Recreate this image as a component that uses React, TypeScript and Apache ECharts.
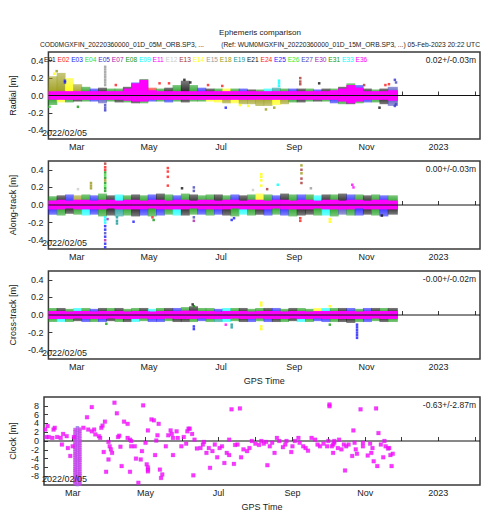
import { useEffect, useRef } from 'react';
import * as echarts from 'echarts';

const FONT = 'Liberation Sans, Arial, Helvetica, sans-serif';

const satellites = ['E01','E02','E03','E04','E05','E07','E08','E09','E11','E12','E13','E14','E15','E18','E19','E21','E24','E25','E26','E27','E30','E31','E33','E36'];
const satColors = ['#111111','#ff1a1a','#1a1aff','#33dd33','#3333cc','#aa22aa','#119911','#00ffff','#ff00ff','#cccccc','#aa3333','#ffff00','#999999','#999911','#119999','#111111','#ff1a1a','#1a1aff','#33ee33','#4444bb','#aa22aa','#119911','#00ffff','#ff00ff'];

const axisStart = '2022-02-05';
const axisEnd = '2023-02-05';
const monthTicks = ['2022-03-01','2022-04-01','2022-05-01','2022-06-01','2022-07-01','2022-08-01','2022-09-01','2022-10-01','2022-11-01','2022-12-01','2023-01-01','2023-02-01'];
const labelDates = ['2022-03-01','2022-05-01','2022-07-01','2022-09-01','2022-11-01','2023-01-01'];
const tickLabels = ['Mar','May','Jul','Sep','Nov','2023'];

const orbitTicks = [-0.4, -0.2, 0, 0.2, 0.4];
const clockTicks = [-8, -6, -4, -2, 0, 2, 4, 6, 8];

const panelNames = ['Radial [m]', 'Along-track [m]', 'Cross-track [m]', 'Clock [m]'];
const panelStats = ['0.02+/-0.03m', '0.00+/-0.03m', '-0.00+/-0.02m', '-0.63+/-2.87m'];
const startLabel = '2022/02/05';

const weekStarts = ['2022-02-05','2022-02-12','2022-02-19','2022-02-26','2022-03-05','2022-03-12','2022-03-19','2022-03-26','2022-04-02','2022-04-09','2022-04-16','2022-04-23','2022-04-30','2022-05-07','2022-05-14','2022-05-21','2022-05-28','2022-06-04','2022-06-11','2022-06-18','2022-06-25','2022-07-02','2022-07-09','2022-07-16','2022-07-23','2022-07-30','2022-08-06','2022-08-13','2022-08-20','2022-08-27','2022-09-03','2022-09-10','2022-09-17','2022-09-24','2022-10-01','2022-10-08','2022-10-15','2022-10-22','2022-10-29','2022-11-05','2022-11-12','2022-11-19'];
const dataEnd = '2022-11-27';

// Radial envelope (weekly)
const radialHi = [0.22,0.26,0.2,0.13,0.1,0.08,0.09,0.08,0.08,0.1,0.15,0.19,0.09,0.08,0.09,0.12,0.17,0.12,0.09,0.08,0.08,0.08,0.08,0.08,0.07,0.07,0.08,0.09,0.08,0.08,0.08,0.08,0.07,0.08,0.08,0.1,0.14,0.12,0.08,0.07,0.08,0.1];
const radialLo = [-0.11,-0.08,-0.08,-0.07,-0.07,-0.07,-0.09,-0.07,-0.08,-0.08,-0.09,-0.09,-0.07,-0.07,-0.08,-0.07,-0.08,-0.07,-0.07,-0.07,-0.08,-0.09,-0.09,-0.1,-0.1,-0.12,-0.12,-0.11,-0.1,-0.08,-0.08,-0.07,-0.07,-0.07,-0.09,-0.1,-0.1,-0.09,-0.08,-0.08,-0.1,-0.12];
const radialMagHi = [0.05,0.05,0.05,0.05,0.05,0.05,0.05,0.05,0.05,0.08,0.14,0.18,0.06,0.05,0.05,0.05,0.05,0.05,0.05,0.05,0.05,0.05,0.05,0.05,0.05,0.05,0.05,0.05,0.05,0.05,0.05,0.05,0.05,0.05,0.06,0.08,0.12,0.09,0.05,0.05,0.05,0.06];
const radialMagLo = [-0.05,-0.05,-0.05,-0.05,-0.05,-0.05,-0.05,-0.05,-0.05,-0.06,-0.07,-0.07,-0.05,-0.05,-0.05,-0.05,-0.05,-0.05,-0.05,-0.05,-0.05,-0.05,-0.05,-0.05,-0.05,-0.05,-0.05,-0.05,-0.05,-0.05,-0.05,-0.05,-0.05,-0.05,-0.05,-0.07,-0.09,-0.07,-0.05,-0.05,-0.05,-0.06];
const radialHiSat = ['E18','E18','E14','E18','E08','E03','E21','E08','E08','E01','E03','E08','E02','E08','E21','E08','E21','E08','E03','E21','E08','E14','E08','E03','E21','E08','E09','E19','E08','E03','E21','E08','E03','E01','E08','E21','E08','E03','E21','E08','E21','E27'];
const radialLoSat = ['E08','E14','E08','E21','E08','E03','E27','E08','E21','E08','E21','E08','E03','E08','E03','E08','E21','E08','E08','E14','E14','E18','E14','E18','E18','E18','E18','E14','E18','E08','E21','E08','E21','E08','E03','E08','E21','E08','E03','E08','E21','E27'];

// Along-track envelope (weekly)
const alongHi = [0.1,0.11,0.12,0.11,0.12,0.11,0.13,0.11,0.12,0.11,0.12,0.11,0.12,0.13,0.12,0.11,0.13,0.12,0.11,0.12,0.12,0.11,0.12,0.11,0.12,0.13,0.12,0.11,0.13,0.12,0.12,0.12,0.11,0.12,0.12,0.13,0.12,0.12,0.11,0.12,0.11,0.11];
const alongLo = [-0.11,-0.12,-0.1,-0.11,-0.12,-0.11,-0.13,-0.12,-0.13,-0.12,-0.13,-0.12,-0.13,-0.12,-0.11,-0.12,-0.12,-0.11,-0.11,-0.12,-0.11,-0.12,-0.13,-0.11,-0.12,-0.11,-0.12,-0.11,-0.12,-0.13,-0.12,-0.11,-0.12,-0.12,-0.13,-0.11,-0.12,-0.12,-0.11,-0.12,-0.13,-0.11];
const alongMagHi = [0.05,0.06,0.05,0.06,0.06,0.05,0.06,0.06,0.05,0.06,0.06,0.05,0.06,0.06,0.05,0.06,0.06,0.05,0.06,0.06,0.05,0.06,0.06,0.05,0.06,0.06,0.05,0.06,0.06,0.05,0.06,0.06,0.05,0.06,0.06,0.05,0.06,0.06,0.05,0.06,0.06,0.05];
const alongMagLo = [-0.05,-0.05,-0.04,-0.05,-0.05,-0.05,-0.05,-0.04,-0.05,-0.05,-0.05,-0.05,-0.04,-0.05,-0.05,-0.05,-0.05,-0.04,-0.05,-0.05,-0.05,-0.05,-0.04,-0.05,-0.05,-0.05,-0.05,-0.04,-0.05,-0.05,-0.05,-0.05,-0.04,-0.05,-0.05,-0.05,-0.05,-0.04,-0.05,-0.05,-0.05,-0.05];
const alongHiSat = ['E08','E21','E03','E18','E08','E03','E08','E21','E09','E08','E01','E08','E03','E21','E08','E03','E08','E21','E08','E08','E01','E08','E03','E21','E08','E14','E08','E03','E21','E08','E03','E08','E09','E21','E08','E01','E03','E08','E21','E08','E03','E08'];
const alongLoSat = ['E03','E08','E21','E08','E09','E03','E08','E21','E19','E08','E21','E03','E08','E03','E08','E09','E21','E08','E03','E08','E03','E21','E08','E09','E08','E21','E03','E08','E03','E08','E21','E21','E08','E09','E08','E27','E08','E03','E21','E08','E03','E21'];

// Cross-track envelope (weekly)
const crossHi = [0.08,0.08,0.07,0.08,0.08,0.07,0.08,0.08,0.08,0.07,0.08,0.08,0.07,0.08,0.08,0.08,0.09,0.1,0.08,0.08,0.07,0.08,0.08,0.08,0.07,0.08,0.08,0.08,0.07,0.08,0.08,0.07,0.08,0.08,0.08,0.08,0.08,0.07,0.08,0.08,0.08,0.08];
const crossLo = [-0.08,-0.08,-0.08,-0.07,-0.08,-0.08,-0.08,-0.07,-0.08,-0.08,-0.08,-0.07,-0.08,-0.08,-0.07,-0.08,-0.08,-0.08,-0.07,-0.08,-0.08,-0.08,-0.07,-0.08,-0.08,-0.07,-0.08,-0.08,-0.08,-0.07,-0.08,-0.08,-0.07,-0.08,-0.08,-0.08,-0.09,-0.08,-0.08,-0.07,-0.08,-0.08];
const crossMagHi = [0.045,0.045,0.04,0.045,0.045,0.04,0.045,0.045,0.045,0.04,0.045,0.045,0.04,0.045,0.045,0.045,0.05,0.05,0.045,0.045,0.04,0.045,0.045,0.045,0.04,0.045,0.045,0.045,0.04,0.045,0.045,0.04,0.045,0.045,0.045,0.045,0.045,0.04,0.045,0.045,0.045,0.045];
const crossMagLo = [-0.045,-0.045,-0.045,-0.04,-0.045,-0.045,-0.045,-0.04,-0.045,-0.045,-0.045,-0.04,-0.045,-0.045,-0.04,-0.045,-0.045,-0.045,-0.04,-0.045,-0.045,-0.045,-0.04,-0.045,-0.045,-0.04,-0.045,-0.045,-0.045,-0.04,-0.045,-0.045,-0.04,-0.045,-0.045,-0.045,-0.045,-0.045,-0.045,-0.04,-0.045,-0.045];
const crossHiSat = ['E08','E21','E08','E09','E08','E03','E21','E08','E21','E08','E08','E01','E09','E08','E21','E03','E08','E21','E08','E08','E03','E09','E08','E21','E08','E08','E01','E03','E08','E21','E08','E08','E14','E09','E08','E21','E03','E08','E03','E21','E08','E21'];
const crossLoSat = ['E08','E09','E08','E21','E03','E08','E03','E21','E08','E21','E09','E08','E03','E03','E08','E21','E21','E08','E03','E08','E19','E09','E08','E21','E03','E08','E03','E21','E08','E21','E09','E08','E03','E03','E08','E21','E21','E08','E03','E08','E21','E08'];

type Pt = [string, number, string];

const radialOutliers: Pt[] = [
  ['2022-03-25',0.33,'E15'],['2022-03-25',0.3,'E15'],['2022-03-25',0.27,'E15'],['2022-03-25',0.24,'E15'],['2022-03-25',0.21,'E15'],['2022-03-25',0.18,'E15'],['2022-03-25',0.15,'E15'],['2022-03-25',0.12,'E15'],
  ['2022-03-25',-0.11,'E27'],['2022-03-25',-0.14,'E27'],['2022-03-25',-0.17,'E05'],
  ['2022-02-19',0.17,'E03'],['2022-02-19',0.15,'E03'],['2022-02-12',0.28,'E18'],['2022-02-10',0.25,'E14'],
  ['2022-05-10',0.14,'E24'],['2022-05-18',0.14,'E02'],
  ['2022-08-19',0.17,'E09'],['2022-08-19',0.14,'E09'],['2022-08-19',0.11,'E33'],
  ['2022-09-06',0.2,'E13'],['2022-09-06',0.16,'E13'],['2022-09-06',0.13,'E13'],
  ['2022-09-22',0.14,'E01'],['2022-11-20',0.13,'E24'],
  ['2022-11-25',0.18,'E05'],['2022-11-26',0.15,'E27'],['2022-11-25',-0.12,'E05'],['2022-11-26',-0.1,'E27'],
  ['2022-07-05',-0.14,'E03'],['2022-11-12',-0.14,'E01'],
  ['2022-07-17',-0.11,'E14'],['2022-07-24',-0.12,'E14'],['2022-08-08',-0.16,'E18'],['2022-08-15',-0.14,'E18'],
  ['2022-03-02',-0.13,'E08'],['2022-02-06',-0.13,'E04'],
  ['2022-06-05',0.15,'E21'],['2022-05-31',0.18,'E21'],
  ['2022-04-03',0.12,'E02'],['2022-06-20',0.12,'E24'],['2022-07-02',0.11,'E02'],['2022-10-30',0.12,'E13'],['2022-11-17',0.12,'E02'],
];

const alongOutliers: Pt[] = [
  ['2022-03-25',0.47,'E13'],['2022-03-25',0.43,'E02'],['2022-03-25',0.4,'E24'],['2022-03-25',0.37,'E08'],['2022-03-25',0.34,'E04'],['2022-03-25',0.31,'E31'],['2022-03-25',0.28,'E18'],['2022-03-25',0.25,'E08'],['2022-03-25',0.22,'E26'],['2022-03-25',0.19,'E08'],['2022-03-25',0.16,'E31'],
  ['2022-03-25',-0.14,'E09'],['2022-03-25',-0.17,'E33'],['2022-03-25',-0.2,'E09'],['2022-03-25',-0.24,'E25'],['2022-03-25',-0.28,'E03'],['2022-03-25',-0.32,'E27'],['2022-03-25',-0.36,'E03'],['2022-03-25',-0.4,'E30'],['2022-03-25',-0.44,'E25'],['2022-03-25',-0.48,'E03'],
  ['2022-03-27',-0.16,'E07'],
  ['2022-05-17',0.42,'E24'],['2022-05-17',0.38,'E24'],['2022-05-17',0.32,'E24'],['2022-05-17',0.22,'E02'],
  ['2022-03-13',0.25,'E18'],['2022-03-13',0.22,'E18'],['2022-03-13',0.19,'E18'],
  ['2022-05-29',0.19,'E01'],
  ['2022-06-08',0.2,'E27'],['2022-06-08',0.16,'E27'],['2022-06-08',-0.14,'E27'],['2022-06-08',-0.18,'E30'],
  ['2022-03-02',0.18,'E12'],
  ['2022-04-04',-0.14,'E19'],['2022-04-04',-0.18,'E19'],['2022-04-04',-0.21,'E19'],
  ['2022-04-18',-0.19,'E03'],['2022-05-04',-0.14,'E02'],['2022-05-05',-0.17,'E08'],
  ['2022-07-10',-0.17,'E03'],['2022-07-12',-0.15,'E25'],
  ['2022-08-04',0.35,'E14'],['2022-08-04',0.32,'E14'],['2022-08-04',0.28,'E14'],['2022-08-04',0.22,'E14'],
  ['2022-09-07',0.45,'E18'],['2022-09-07',0.4,'E13'],['2022-09-07',0.36,'E18'],['2022-09-07',0.3,'E13'],['2022-09-07',0.25,'E13'],
  ['2022-10-01',-0.19,'E14'],['2022-10-01',-0.16,'E14'],
  ['2022-10-20',0.23,'E36'],['2022-10-21',0.2,'E36'],
  ['2022-09-06',-0.15,'E02'],['2022-09-06',-0.18,'E02'],['2022-11-14',-0.12,'E01'],
  ['2022-08-18',0.23,'E09'],['2022-08-09',0.18,'E13'],['2022-07-28',0.17,'E12'],['2022-09-15',0.19,'E15'],
];

const crossOutliers: Pt[] = [
  ['2022-06-08',-0.16,'E03'],['2022-06-08',-0.13,'E03'],['2022-06-08',0.1,'E08'],['2022-06-07',0.12,'E21'],
  ['2022-07-10',-0.14,'E19'],['2022-07-10',-0.11,'E19'],['2022-07-05',-0.11,'E36'],
  ['2022-10-24',-0.11,'E03'],['2022-10-24',-0.14,'E03'],['2022-10-24',-0.17,'E03'],['2022-10-24',-0.2,'E03'],['2022-10-24',-0.23,'E03'],['2022-10-24',-0.26,'E03'],
  ['2022-08-04',0.14,'E14'],['2022-08-04',0.11,'E14'],['2022-08-04',-0.13,'E14'],['2022-08-04',-0.16,'E14'],
  ['2022-10-01',0.1,'E14'],['2022-10-01',-0.11,'E08'],['2022-03-26',-0.1,'E08'],
];

const clockPoints: [string, number][] = [
  ['2022-02-06',2.6],['2022-02-08',3.4],['2022-02-07',0.9],['2022-02-09',0.9],['2022-02-13',2.6],['2022-02-14',3.0],['2022-02-12',0.7],['2022-02-16',0.9],
  ['2022-02-19',0.7],['2022-02-21',1.6],['2022-02-24',1.1],['2022-02-20',-0.8],['2022-02-25',-1.6],['2022-02-27',-3.4],['2022-03-01',-1.2],['2022-03-02',0.9],
  ['2022-03-10',3.0],['2022-03-13',5.4],['2022-03-17',7.7],['2022-03-14',2.6],['2022-03-17',2.2],['2022-03-19',2.6],['2022-03-20',1.5],['2022-03-24',0.7],
  ['2022-03-25',3.0],['2022-03-26',3.5],['2022-03-28',4.4],['2022-03-23',1.1],['2022-03-27',-2.5],['2022-03-31',-0.2],['2022-04-01',-1.2],['2022-04-02',-1.9],
  ['2022-04-03',-2.7],['2022-03-31',-4.2],['2022-03-29',-7.0],['2022-04-05',8.7],['2022-04-07',6.3],['2022-04-08',0.9],['2022-04-09',1.2],['2022-04-11',-5.7],
  ['2022-04-10',-1.3],['2022-04-13',4.4],['2022-04-16',3.9],['2022-04-16',0.7],['2022-04-18',0.3],['2022-04-19',0],['2022-04-19',-1.2],['2022-04-18',-7.0],
  ['2022-04-22',-1.2],['2022-04-23',-4.0],['2022-04-27',-4.2],['2022-04-25',-9.5],['2022-04-29',8.1],['2022-04-28',-2.3],['2022-05-01',-0.4],['2022-05-02',-5.3],
  ['2022-05-03',-6.0],['2022-05-03',-6.5],['2022-05-03',-6.9],['2022-05-03',2.4],['2022-05-06',4.9],['2022-05-08',4.7],['2022-05-10',0.1],['2022-05-12',3.9],
  ['2022-05-11',1.3],['2022-05-09',-3.2],['2022-05-13',-6.5],['2022-05-15',-7.6],['2022-05-14',-8.4],['2022-05-18',-1.2],['2022-05-20',1.3],['2022-05-22',2.4],
  ['2022-05-23',1.6],['2022-05-24',0.7],['2022-05-24',-3.2],['2022-05-27',2.2],['2022-05-28',0.7],['2022-05-31',-1.2],['2022-06-02',0.9],['2022-06-05',2.2],
  ['2022-06-06',2.8],['2022-06-04',-0.6],['2022-06-07',2.8],['2022-06-09',1.6],['2022-06-11',0.3],['2022-06-13',-1.7],['2022-06-16',-1.6],['2022-06-18',-0.8],
  ['2022-06-19',-0.2],['2022-06-21',-2.7],['2022-06-23',-1.6],['2022-06-26',-2.3],['2022-06-24',-6.1],['2022-06-28',-0.8],['2022-06-30',-3.7],['2022-07-02',-1.6],
  ['2022-07-04',-1.2],['2022-07-06',-5.0],['2022-07-08',-2.7],['2022-07-10',-3.2],['2022-07-10',0.3],['2022-07-12',7.2],['2022-07-14',-5.2],['2022-07-15',-0.9],
  ['2022-07-17',-0.8],['2022-07-19',7.4],['2022-07-20',-3.7],['2022-07-22',-1.9],['2022-07-25',-2.3],['2022-07-27',-1.6],['2022-07-29',0],['2022-08-01',-0.6],
  ['2022-08-04',-0.9],['2022-08-06',0],['2022-08-08',-0.6],['2022-08-10',-0.2],['2022-08-11',-5.5],['2022-08-13',-1.2],['2022-08-15',-0.4],['2022-08-17',-2.7],
  ['2022-08-19',0.7],['2022-08-21',0],['2022-08-24',-1.4],['2022-08-26',-0.8],['2022-08-27',0],['2022-08-31',-2.5],['2022-09-01',-1.2],['2022-09-03',0],
  ['2022-09-06',0.7],['2022-09-07',-0.4],['2022-09-10',-1.2],['2022-09-12',-1.6],['2022-09-14',-2.2],['2022-09-17',0.7],['2022-09-20',0.3],['2022-09-22',-0.8],
  ['2022-09-24',-1.2],['2022-09-27',-0.6],['2022-09-30',-1.2],['2022-10-02',8.3],['2022-10-02',7.9],['2022-10-01',0],['2022-10-04',-1.2],['2022-10-05',-2.7],
  ['2022-10-06',-0.4],['2022-06-10',-7.8],['2022-10-05',-0.8],['2022-10-06',0],['2022-10-09',-1.6],['2022-10-10',0.3],['2022-10-12',-1.9],['2022-10-14',-0.8],
  ['2022-10-16',-1.2],['2022-10-15',-6.7],['2022-10-18',-0.8],['2022-10-21',-3.4],['2022-10-22',2.4],['2022-10-23',-0.4],['2022-10-24',-1.9],['2022-10-25',-2.9],
  ['2022-10-28',7.2],['2022-10-30',-0.4],['2022-10-30',-1.2],['2022-11-03',-3.3],['2022-11-05',-0.6],['2022-11-06',-2.7],['2022-11-07',-1.6],['2022-11-08',-4.6],
  ['2022-11-10',7.4],['2022-11-11',-5.7],['2022-11-12',1.8],['2022-11-14',-0.8],['2022-11-16',-3.7],['2022-11-17',0],['2022-11-18',-1.2],['2022-11-20',-1.7],
  ['2022-11-21',-1.6],['2022-11-22',-3.2],['2022-11-24',-2.9],['2022-11-23',-5.7],
];

// dense column of clock jumps in early March
const clockColMar03 = [2.6,2.1,1.5,1.0,0.6,0.1,-0.4,-0.9,-1.4,-1.9,-2.4,-2.9,-3.3,-3.8,-4.3,-4.8,-5.3,-5.8,-6.3,-6.7,-7.2,-7.7,-8.2,-8.7,-9.2,-9.7];
const clockColMar05 = [3.0,2.4,1.9,1.3,0.8,0.3,-0.2,-0.7,-1.1,-1.6,-2.1,-2.6,-3.1,-3.6,-4.1,-4.5,-5.0,-5.5,-6.0,-6.5,-7.0,-7.5,-7.9,-8.4,-8.9,-9.4,-9.9];
const clockColMar07 = [2.7,2.2,1.7,1.1,0.6,0.0,-0.5,-1.0,-1.5,-2.0,-2.5,-3.0,-3.5,-4.0,-4.4,-4.9,-5.4,-5.9,-6.4,-6.9,-7.4,-7.8,-8.3,-8.8,-9.3,-9.8];

const toTs = (s: string) => {
  const [y, m, d] = s.split('-').map(Number);
  return Date.UTC(y, m - 1, d);
};
const colorOf = (sat: string) => satColors[satellites.indexOf(sat)] || '#000000';
const withAlpha = (hex: string, a: number) => {
  const n = parseInt(hex.slice(1), 16);
  return `rgba(${(n >> 16) & 255},${(n >> 8) & 255},${n & 255},${a})`;
};
const fade = (hex: string, outerAtTop: boolean) => ({
  type: 'linear', x: 0, y: 0, x2: 0, y2: 1,
  colorStops: outerAtTop
    ? [{ offset: 0, color: withAlpha(hex, 0.55) }, { offset: 1, color: withAlpha(hex, 1) }]
    : [{ offset: 0, color: withAlpha(hex, 1) }, { offset: 1, color: withAlpha(hex, 0.55) }],
});

const GRID_TOPS = [52, 161, 271, 397];
const GRID_H = [87, 88, 88, 88];
const GRID_LEFT = 40;
const GRID_W = 440;

function buildOption() {
  const panels = [
    { lo: radialLo, hi: radialHi, magLo: radialMagLo, magHi: radialMagHi, loSat: radialLoSat, hiSat: radialHiSat, outliers: radialOutliers },
    { lo: alongLo, hi: alongHi, magLo: alongMagLo, magHi: alongMagHi, loSat: alongLoSat, hiSat: alongHiSat, outliers: alongOutliers },
    { lo: crossLo, hi: crossHi, magLo: crossMagLo, magHi: crossMagHi, loSat: crossLoSat, hiSat: crossHiSat, outliers: crossOutliers },
  ];
  const binEnds = weekStarts.map((_, i) => (i + 1 < weekStarts.length ? weekStarts[i + 1] : dataEnd));
  const labelTs = labelDates.map(toTs);

  const grid = GRID_TOPS.map((t, i) => ({
    left: GRID_LEFT, top: t, width: GRID_W, height: GRID_H[i],
    show: true, borderColor: '#3a3a3a', borderWidth: 1.5, backgroundColor: 'transparent',
  }));

  const xAxis = GRID_TOPS.map((_, i) => ({
    type: 'value', gridIndex: i, min: toTs(axisStart), max: toTs(axisEnd),
    axisLine: { show: false }, splitLine: { show: false },
    axisTick: { show: true, inside: true, length: 4, lineStyle: { color: '#3a3a3a', width: 1 }, customValues: monthTicks.map(toTs) },
    axisLabel: {
      show: true, customValues: labelTs, margin: 3, fontSize: 9, color: '#222', fontFamily: FONT,
      formatter: (v: number) => {
        const idx = labelTs.findIndex((d) => Math.abs(d - v) < 3600 * 1000 * 12);
        return idx >= 0 ? tickLabels[idx] : '';
      },
    },
    name: i >= 2 ? 'GPS Time' : '', nameLocation: 'middle', nameGap: 17,
    nameTextStyle: { fontSize: 9, color: '#222', fontFamily: FONT },
  }));

  const yAxis = GRID_TOPS.map((_, i) => {
    const isClock = i === 3;
    const ticks = isClock ? clockTicks : orbitTicks;
    return {
      type: 'value', gridIndex: i, min: isClock ? -10 : -0.5, max: isClock ? 10 : 0.5,
      axisLine: { show: false }, splitLine: { show: false },
      axisTick: { show: true, inside: true, length: 4, lineStyle: { color: '#3a3a3a' }, customValues: ticks },
      axisLabel: {
        show: true, customValues: ticks, margin: 5, fontSize: 9, color: '#222', fontFamily: FONT,
        formatter: (v: number) => (isClock ? String(Math.round(v)) : v.toFixed(1)),
      },
      name: panelNames[i], nameLocation: 'middle', nameGap: 27, nameRotate: 90,
      nameTextStyle: { fontSize: 9, color: '#222', fontFamily: FONT },
    };
  });

  const series: any[] = [];

  panels.forEach((p, g) => {
    const binData = weekStarts.map((w, i) => [toTs(w), toTs(binEnds[i]), p.lo[i], p.hi[i]]);
    series.push({
      type: 'custom', name: 'fringe' + g, xAxisIndex: g, yAxisIndex: g, silent: true, z: 1, clip: true,
      encode: { x: [0, 1], y: [2, 3] },
      data: binData,
      renderItem: (params: any, api: any) => {
        const i = params.dataIndex;
        const a = api.coord([api.value(0), api.value(3)]);
        const b = api.coord([api.value(1), 0]);
        const c = api.coord([api.value(0), api.value(2)]);
        const w = b[0] - a[0] + 0.6;
        return {
          type: 'group',
          children: [
            { type: 'rect', shape: { x: a[0], y: a[1], width: w, height: b[1] - a[1] }, style: { fill: fade(colorOf(p.hiSat[i]), true) } },
            { type: 'rect', shape: { x: a[0], y: b[1], width: w, height: c[1] - b[1] }, style: { fill: fade(colorOf(p.loSat[i]), false) } },
          ],
        };
      },
    });
    satellites.forEach((sat, si) => {
      const pts = p.outliers.filter((o) => o[2] === sat).map((o) => [toTs(o[0]), o[1]]);
      if (!pts.length) return;
      series.push({
        type: 'scatter', name: sat, xAxisIndex: g, yAxisIndex: g, data: pts, symbol: 'rect', symbolSize: 2.5,
        itemStyle: { color: satColors[si] }, z: 2, silent: true,
      });
    });
    const magData = weekStarts.map((w, i) => [toTs(w), toTs(binEnds[i]), p.magLo[i], p.magHi[i]]);
    series.push({
      type: 'custom', name: 'E36band' + g, xAxisIndex: g, yAxisIndex: g, silent: true, z: 3, clip: true,
      encode: { x: [0, 1], y: [2, 3] },
      data: magData,
      renderItem: (params: any, api: any) => {
        const a = api.coord([api.value(0), api.value(3)]);
        const b = api.coord([api.value(1), api.value(2)]);
        return { type: 'rect', shape: { x: a[0], y: a[1], width: b[0] - a[0] + 0.6, height: b[1] - a[1] }, style: { fill: '#ff00ff' } };
      },
    });
    series.push({
      type: 'line', name: 'zero' + g, xAxisIndex: g, yAxisIndex: g, silent: true, z: 5,
      data: [[toTs(axisStart), 0], [toTs(axisEnd), 0]], showSymbol: false, symbol: 'none',
      lineStyle: { color: '#111', width: 1 },
    });
  });

  // Clock panel
  series.push({
    type: 'line', name: 'zero3', xAxisIndex: 3, yAxisIndex: 3, silent: true, z: 1,
    data: [[toTs(axisStart), 0], [toTs(axisEnd), 0]], showSymbol: false, symbol: 'none',
    lineStyle: { color: '#111', width: 1 },
  });
  series.push({
    type: 'scatter', name: 'E27', xAxisIndex: 3, yAxisIndex: 3, silent: true, z: 2, symbol: 'rect', symbolSize: 3.5,
    itemStyle: { color: '#8877dd' },
    data: clockColMar05.map((v) => [toTs('2022-03-05'), v]),
  });
  series.push({
    type: 'scatter', name: 'E36', xAxisIndex: 3, yAxisIndex: 3, silent: true, z: 3, symbol: 'rect', symbolSize: 3.5,
    itemStyle: { color: '#cc44ee' },
    data: [
      ...clockColMar03.map((v) => [toTs('2022-03-03'), v]),
      ...clockColMar07.map((v) => [toTs('2022-03-07'), v]),
    ],
  });
  series.push({
    type: 'scatter', name: 'E36', xAxisIndex: 3, yAxisIndex: 3, silent: true, z: 4, symbol: 'rect', symbolSize: 3.8,
    itemStyle: { color: '#ff00ff', borderColor: '#b040e0', borderWidth: 0.3 },
    data: clockPoints.map((c) => [toTs(c[0]), c[1]]),
  });

  const rich: Record<string, any> = {};
  satellites.forEach((s, i) => {
    rich['s' + i] = { fill: satColors[i], color: satColors[i], fontSize: 6.6, fontFamily: FONT };
  });
  const legendText = satellites.map((s, i) => `{s${i}|${s}}`).join(' ');

  const txt = (text: string, x: number, y: number, size: number, align: string, vAlign = 'middle') => ({
    type: 'text', x, y, silent: true, z: 100,
    style: { text, fill: '#222', fontSize: size, fontFamily: FONT, align, textAlign: align, verticalAlign: vAlign, textVerticalAlign: vAlign },
  });

  const graphic: any[] = [
    txt('Ephemeris comparison', GRID_LEFT + GRID_W / 2, 32, 8, 'center'),
    txt('COD0MGXFIN_20220360000_01D_05M_ORB.SP3, ...', 40, 44, 6.7, 'left'),
    txt('(Ref: WUM0MGXFIN_20220360000_01D_15M_ORB.SP3, ...) 05-Feb-2023 20:22 UTC', 480, 44, 6.7, 'right'),
    {
      type: 'text', x: 44, y: 59, silent: true, z: 100,
      style: { text: legendText, rich, fontSize: 6.6, fontFamily: FONT, verticalAlign: 'middle', textVerticalAlign: 'middle', align: 'left', textAlign: 'left' },
    },
  ];
  GRID_TOPS.forEach((t, i) => {
    graphic.push(txt(panelStats[i], 476, t + 8, 8.5, 'right'));
    graphic.push(txt(startLabel, 42, t + GRID_H[i] - 6, 9, 'left'));
  });

  return {
    animation: false,
    backgroundColor: '#ffffff',
    grid, xAxis, yAxis, series, graphic,
    tooltip: { show: false },
  };
}

export default function App() {
  const ref = useRef<HTMLDivElement>(null);
  useEffect(() => {
    if (!ref.current) return;
    const chart = echarts.init(ref.current, undefined, { renderer: 'svg' });
    chart.setOption(buildOption() as any);
    return () => chart.dispose();
  }, []);
  return (
    <div
      ref={ref}
      style={{ position: 'absolute', left: 0, top: 0, width: 490, height: 520, background: '#fff' }}
    />
  );
}
